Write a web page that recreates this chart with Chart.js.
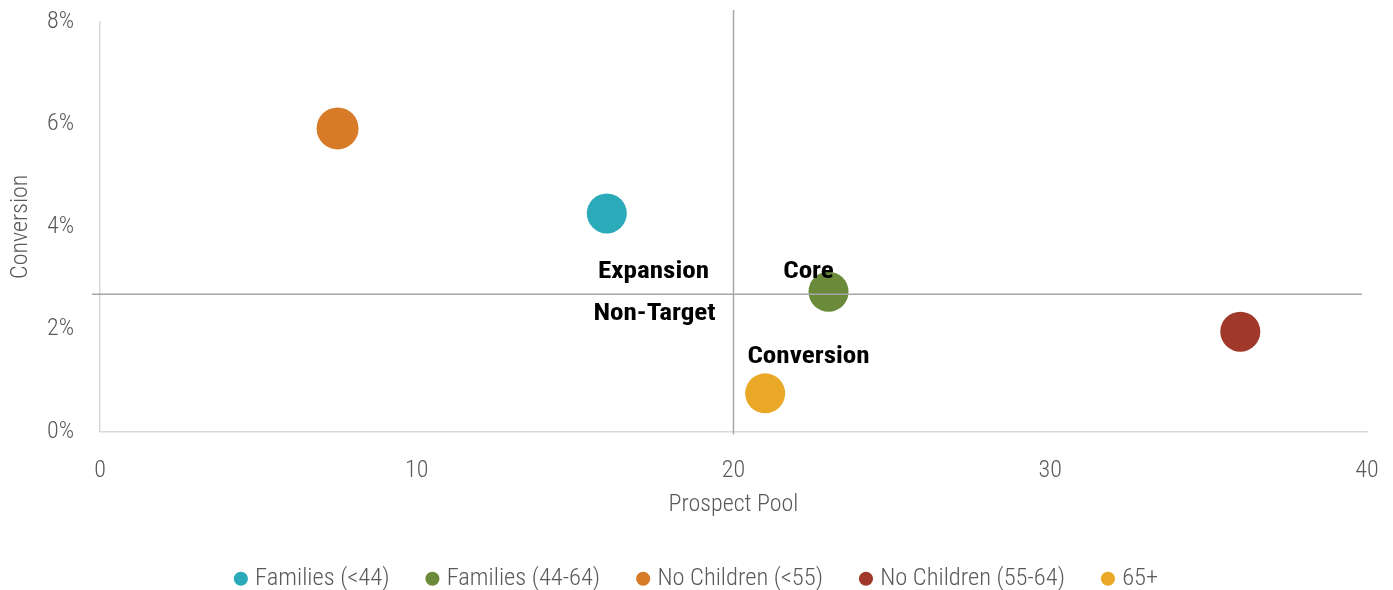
<!DOCTYPE html>
<html>
<head>
<meta charset="utf-8">
<script src="https://cdn.jsdelivr.net/npm/chart.js@4.4.0/dist/chart.umd.min.js"></script>
<style>
  html, body { margin: 0; padding: 0; background: #ffffff; }
  #wrap { width: 1393px; height: 590px; position: relative; }
</style>
</head>
<body>
<div id="wrap"><canvas id="c" width="1393" height="590"></canvas></div>
<script>
// ---- data ----
const segments = ["Families (<44)", "Families (44-64)", "No Children (<55)", "No Children (55-64)", "65+"];
const prospectPool = [16, 23, 7.5, 36, 21];          // x values
const conversionPct = [4.26, 2.73, 5.92, 1.95, 0.745]; // y values (%)
const bubbleSize = [20, 20, 21, 20, 20];              // bubble radius
const colors = ["#2BABB9", "#6B8B3B", "#D77B28", "#A1392A", "#E9A825"];
const xTicks = [0, 10, 20, 30, 40];
const yTicks = [0, 2, 4, 6, 8];
const quadrantX = 20;
const quadrantY = 2.68;
const quadrantLabels = ["Expansion", "Core", "Non-Target", "Conversion"];

const FONT = "'Roboto Condensed', 'DejaVu Sans Condensed', sans-serif";

const datasets = segments.map((name, i) => ({
  label: name,
  data: [{ x: prospectPool[i], y: conversionPct[i], r: bubbleSize[i] }],
  backgroundColor: colors[i],
  borderColor: colors[i],
  borderWidth: 0,
  hoverRadius: 0
}));

const quadrantPlugin = {
  id: 'quadrant',
  afterLayout(chart) {
    const lg = chart.legend;
    if (lg) { lg.left += 15; lg.right += 15; }
  },
  afterDatasetsDraw(chart) {
    const { ctx, scales: { x, y }, chartArea } = chart;
    const qx = x.getPixelForValue(quadrantX);
    const qy = y.getPixelForValue(quadrantY);
    ctx.save();
    ctx.strokeStyle = '#A6A6A6';
    ctx.lineWidth = 1.5;
    ctx.beginPath();
    ctx.moveTo(qx, chartArea.top - 12);
    ctx.lineTo(qx, chartArea.bottom + 3);
    ctx.stroke();
    ctx.beginPath();
    ctx.moveTo(chartArea.left - 8, qy);
    ctx.lineTo(chartArea.right - 5, qy);
    ctx.stroke();

    ctx.fillStyle = '#000000';
    ctx.font = "bold 24px " + FONT;
    ctx.textAlign = 'center';
    ctx.textBaseline = 'middle';
    const put = (txt, px, py) => {
      ctx.save();
      ctx.translate(px, py);
      ctx.scale(1.13, 1);
      ctx.fillText(txt, 0, 0);
      ctx.restore();
    };
    put(quadrantLabels[0], qx - 80, qy - 22);
    put(quadrantLabels[1], qx + 75, qy - 22);
    put(quadrantLabels[2], qx - 79, qy + 20);
    put(quadrantLabels[3], qx + 75, qy + 63);
    ctx.restore();
  }
};

new Chart(document.getElementById('c'), {
  type: 'bubble',
  data: { datasets },
  plugins: [quadrantPlugin],
  options: {
    responsive: false,
    animation: false,
    events: [],
    layout: { autoPadding: false, padding: { left: 0, right: 26, top: 22, bottom: -11 } },
    plugins: {
      tooltip: { enabled: false },
      legend: {
        position: 'bottom',
        labels: {
          usePointStyle: true,
          pointStyle: 'circle',
          boxWidth: 4,
          boxHeight: 10,
          padding: 41,
          color: '#595959',
          font: { family: FONT, size: 24.5, weight: '300' }
        }
      }
    },
    scales: {
      x: {
        type: 'linear',
        min: 0, max: 40,
        afterBuildTicks: (s) => { s.ticks = xTicks.map(v => ({ value: v })); },
        afterFit: (s) => { s.height = 94; s.paddingLeft = 0; s.paddingRight = 0; },
        grid: { display: false, drawTicks: false },
        border: { display: true, color: '#D9D9D9', width: 1.5 },
        ticks: { padding: 25, color: '#595959', font: { family: FONT, size: 24, weight: '300' } },
        title: { display: true, text: 'Prospect Pool', color: '#595959', font: { family: FONT, size: 24, weight: '300' }, padding: { top: 0, bottom: 6 } }
      },
      y: {
        type: 'linear',
        min: 0, max: 8,
        afterBuildTicks: (s) => { s.ticks = yTicks.map(v => ({ value: v })); },
        afterFit: (s) => { s.width = 100; s.paddingTop = 0; s.paddingBottom = 0; },
        grid: { display: false, drawTicks: false },
        border: { display: true, color: '#D9D9D9', width: 1.5 },
        ticks: { padding: 26, color: '#595959', font: { family: FONT, size: 24, weight: '300' }, callback: v => v + '%' },
        title: { display: true, text: 'Conversion', color: '#595959', font: { family: FONT, size: 24, weight: '300' }, padding: { top: 7, bottom: 0 } }
      }
    }
  }
});
</script>
</body>
</html>
